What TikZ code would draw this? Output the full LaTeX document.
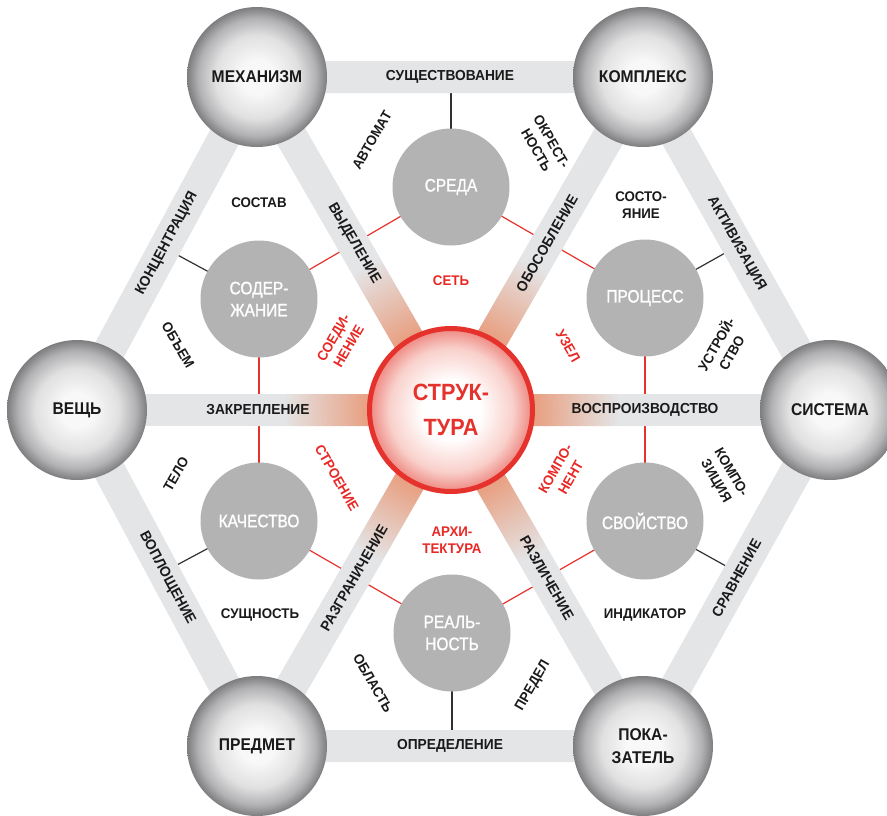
\documentclass[tikz,border=0pt]{standalone}
\usepackage{fontspec}
\setmainfont{Liberation Sans}[FakeStretch=0.86]
\newfontfamily\lblfont{Liberation Sans}[FakeStretch=0.95]
\newfontfamily\sphfont{Liberation Sans}[FakeStretch=0.92]
\newfontfamily\innfont{Liberation Sans}[FakeStretch=0.86, FakeBold=1.2]
\usetikzlibrary{calc}
\definecolor{bandgray}{RGB}{228,229,231}
\definecolor{bandpeach}{RGB}{232,160,130}
\definecolor{sph0}{RGB}{248,248,248}
\definecolor{sph1}{RGB}{224,224,225}
\definecolor{sph2}{RGB}{178,178,180}
\definecolor{sph3}{RGB}{125,125,128}
\definecolor{innergray}{RGB}{179,179,179}
\definecolor{strred}{RGB}{230,50,45}
\definecolor{lblred}{RGB}{232,40,36}
\definecolor{ink}{RGB}{26,26,26}
\definecolor{ctr1}{RGB}{249,208,203}
\definecolor{ctr2}{RGB}{238,135,128}
\pgfdeclareradialshading{sphereshade}{\pgfpoint{0bp}{0bp}}{color(0bp)=(sph0); color(6bp)=(sph0); color(15bp)=(sph1); color(21bp)=(sph2); color(25bp)=(sph3); color(50bp)=(sph3)}
\pgfdeclareradialshading{centershade}{\pgfpoint{0bp}{0bp}}{color(0bp)=(white); color(9bp)=(white); color(19bp)=(ctr1); color(25bp)=(ctr2); color(50bp)=(ctr2)}
\pgfdeclareradialshading{glowshade}{\pgfpoint{0bp}{0bp}}{color(0bp)=(bandpeach); color(10.5bp)=(bandpeach); color(21bp)=(bandgray); color(50bp)=(bandgray)}
\begin{document}
\begin{tikzpicture}[x=1pt,y=-1pt,
  band/.style={line width=32pt, draw=bandgray},
  blk/.style={draw=ink!90, line width=1.2pt},
  redl/.style={draw=strred, line width=1.2pt},
  sphere/.style={circle, minimum size=140pt, inner sep=0pt, shade, shading=sphereshade, font=\sphfont\bfseries\fontsize{17}{23}\selectfont, text=ink, align=center},
  innerc/.style={circle, minimum size=117pt, inner sep=0pt, fill=innergray, text=white, font=\innfont\fontsize{18}{22}\selectfont, align=center},
  ctr/.style={circle, minimum size=163pt, inner sep=0pt, draw=strred, line width=5pt, shade, shading=centershade, text=strred, font=\sphfont\bfseries\fontsize{23.5}{35}\selectfont, align=center},
  bandlbl/.style={font=\lblfont\bfseries\fontsize{14.5}{17}\selectfont, text=ink, inner sep=0pt},
  smlbl/.style={font=\lblfont\bfseries\fontsize{14}{17.5}\selectfont, text=ink, align=center, inner sep=0pt},
  redlbl/.style={smlbl, text=lblred}]
\useasboundingbox (0,0) rectangle (887,815);
\clip (0,0) rectangle (887,815);
% centres
\coordinate (cM) at (257,77);
\coordinate (cK) at (643,77);
\coordinate (cS) at (830,410);
\coordinate (cP) at (643,746);
\coordinate (cPr) at (257,746);
\coordinate (cV) at (77,410);
\coordinate (cC) at (451,410);
\coordinate (i1) at (451,187);
\coordinate (i2) at (645,298);
\coordinate (i3) at (645,521);
\coordinate (i4) at (452,633);
\coordinate (i5) at (259,521);
\coordinate (i6) at (259,299);
% connector lines
\draw[blk] (i1) -- ($(cM)!(i1)!(cK)$);
\draw[redl] (i1) -- ($(cM)!(i1)!(cC)$);
\draw[redl] (i1) -- ($(cK)!(i1)!(cC)$);
\draw[blk] (i2) -- ($(cK)!(i2)!(cS)$);
\draw[redl] (i2) -- ($(cK)!(i2)!(cC)$);
\draw[redl] (i2) -- ($(cS)!(i2)!(cC)$);
\draw[blk] (i3) -- ($(cS)!(i3)!(cP)$);
\draw[redl] (i3) -- ($(cS)!(i3)!(cC)$);
\draw[redl] (i3) -- ($(cP)!(i3)!(cC)$);
\draw[blk] (i4) -- ($(cP)!(i4)!(cPr)$);
\draw[redl] (i4) -- ($(cP)!(i4)!(cC)$);
\draw[redl] (i4) -- ($(cPr)!(i4)!(cC)$);
\draw[blk] (i5) -- ($(cPr)!(i5)!(cV)$);
\draw[redl] (i5) -- ($(cPr)!(i5)!(cC)$);
\draw[redl] (i5) -- ($(cV)!(i5)!(cC)$);
\draw[blk] (i6) -- ($(cV)!(i6)!(cM)$);
\draw[redl] (i6) -- ($(cV)!(i6)!(cC)$);
\draw[redl] (i6) -- ($(cM)!(i6)!(cC)$);
% bands
\draw[band] (cM) -- (cK) -- (cS) -- (cP) -- (cPr) -- (cV) -- cycle;
\draw[band] (cM) -- (cP);
\draw[band] (cK) -- (cPr);
\draw[band] (cV) -- (cS);
\begin{scope}
\clip ($(cM)!16pt!90:(cP)$) -- ($(cM)!16pt!-90:(cP)$) -- ($(cP)!16pt!90:(cM)$) -- ($(cP)!16pt!-90:(cM)$) -- cycle
      ($(cK)!16pt!90:(cPr)$) -- ($(cK)!16pt!-90:(cPr)$) -- ($(cPr)!16pt!90:(cK)$) -- ($(cPr)!16pt!-90:(cK)$) -- cycle
      ($(cV)!16pt!90:(cS)$) -- ($(cV)!16pt!-90:(cS)$) -- ($(cS)!16pt!90:(cV)$) -- ($(cS)!16pt!-90:(cV)$) -- cycle;
\shade[shading=glowshade] (cC) circle (200);
\end{scope}
% inner circles
\node[innerc] (n1) at (i1) {СРЕДА};
\node[innerc] (n2) at (i2) {ПРОЦЕСС};
\node[innerc] (n3) at (i3) {СВОЙСТВО};
\node[innerc] (n4) at (i4) {РЕАЛЬ-\\НОСТЬ};
\node[innerc] (n5) at (i5) {КАЧЕСТВО};
\node[innerc] (n6) at (i6) {СОДЕР-\\ЖАНИЕ};
% outer spheres
\node[sphere] (M) at (cM) {МЕХАНИЗМ};
\node[sphere] (K) at (cK) {КОМПЛЕКС};
\node[sphere] (S) at (cS) {СИСТЕМА};
\node[sphere] (P) at (cP) {ПОКА-\\ЗАТЕЛЬ};
\node[sphere] (Pr) at (cPr) {ПРЕДМЕТ};
\node[sphere] (V) at (cV) {ВЕЩЬ};
% centre
\node[ctr] (C) at (cC) {СТРУК-\\ТУРА};
% band labels
\node[bandlbl] (lSu) at ($(cM)!0.5!(cK)$) {СУЩЕСТВОВАНИЕ};
\node[bandlbl] (lOp) at ($(cPr)!0.5!(cP)$) {ОПРЕДЕЛЕНИЕ};
\node[bandlbl] (lZa) at (258,410) {ЗАКРЕПЛЕНИЕ};
\node[bandlbl] (lVo) at (645,410) {ВОСПРОИЗВОДСТВО};
\path (cV) -- (cM) node[midway, sloped, bandlbl] (lKo) {КОНЦЕНТРАЦИЯ};
\path (cV) -- (cPr) node[midway, sloped, bandlbl] (lVp) {ВОПЛОЩЕНИЕ};
\path (cK) -- (cS) node[midway, sloped, bandlbl] (lAk) {АКТИВИЗАЦИЯ};
\path (cP) -- (cS) node[midway, sloped, bandlbl] (lSr) {СРАВНЕНИЕ};
\path (cM) -- (cC) node[midway, sloped, bandlbl] (lVy) {ВЫДЕЛЕНИЕ};
\path (cC) -- (cK) node[midway, sloped, bandlbl] (lOb) {ОБОСОБЛЕНИЕ};
\path (cPr) -- (cC) node[midway, sloped, bandlbl] (lRg) {РАЗГРАНИЧЕНИЕ};
\path (cC) -- (cP) node[midway, sloped, bandlbl] (lRl) {РАЗЛИЧЕНИЕ};
% small black labels
\node[smlbl, rotate=60] (a1) at (372,140) {АВТОМАТ};
\node[smlbl, rotate=-60] (a2) at (544,146) {ОКРЕСТ-\\НОСТЬ};
\node[smlbl] (a3) at (259,203) {СОСТАВ};
\node[smlbl] (a4) at (641,205) {СОСТО-\\ЯНИЕ};
\node[smlbl, rotate=-60] (a5) at (178,345) {ОБЪЕМ};
\node[smlbl, rotate=60] (a6) at (723,348) {УСТРОЙ-\\СТВО};
\node[smlbl, rotate=60] (a7) at (176,474) {ТЕЛО};
\node[smlbl, rotate=-60] (a8) at (723,477) {КОМПО-\\ЗИЦИЯ};
\node[smlbl] (a9) at (260,615) {СУЩНОСТЬ};
\node[smlbl] (a10) at (645,615) {ИНДИКАТОР};
\node[smlbl, rotate=-60] (a11) at (373,683) {ОБЛАСТЬ};
\node[smlbl, rotate=60] (a12) at (533,686) {ПРЕДЕЛ};
% red labels
\node[redlbl] (r1) at (451,281) {СЕТЬ};
\node[redlbl, rotate=60] (r2) at (341,342) {СОЕДИ-\\НЕНИЕ};
\node[redlbl, rotate=-60] (r3) at (568,346) {УЗЕЛ};
\node[redlbl, rotate=-60] (r4) at (337,478) {СТРОЕНИЕ};
\node[redlbl, rotate=60] (r5) at (563,473) {КОМПО-\\НЕНТ};
\node[redlbl] (r6) at (452,540) {АРХИ-\\ТЕКТУРА};
\end{tikzpicture}
\end{document}
